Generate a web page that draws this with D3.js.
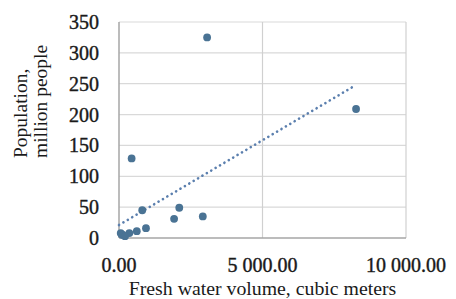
<!DOCTYPE html>
<html>
<head>
<meta charset="utf-8">
<script src="https://cdn.jsdelivr.net/npm/d3@7"></script>
<style>
  html, body { margin: 0; padding: 0; background: #fff; }
  svg { display: block; }
  text { font-family: "Liberation Serif", "Times New Roman", serif; fill: #1a1a1a; }
</style>
</head>
<body>
<svg id="chart" width="456" height="299"></svg>
<script>
// Data
const waterVolume = [3070, 8260, 440, 810, 2100, 1920, 2920, 940, 620, 360, 130, 60, 90, 210];
const population  = [325, 209, 129, 45, 49, 31, 35, 16, 11, 8, 5, 8, 6, 3];
const trendX = [0, 8260];
const trendY = [21, 248];
const yTicks = [0, 50, 100, 150, 200, 250, 300, 350];
const xTicks = [0, 5000, 10000];
const xTickLabels = ["0.00", "5 000.00", "10 000.00"];
const xTitle = "Fresh water volume, cubic meters";
const yTitleLines = ["Population,", "million people"];

const svg = d3.select("#chart");
const m = { left: 119, right: 406, top: 22, bottom: 238 };

const x = d3.scaleLinear().domain([0, 10000]).range([m.left, m.right]);
const y = d3.scaleLinear().domain([0, 350]).range([m.bottom, m.top]);

// horizontal gridlines
svg.append("g").selectAll("line").data(yTicks.filter(d => d > 0)).join("line")
  .attr("x1", m.left).attr("x2", m.right)
  .attr("y1", d => y(d)).attr("y2", d => y(d))
  .attr("stroke", "#d9d9d9").attr("stroke-width", 1.2);
// vertical gridlines
svg.append("g").selectAll("line").data(xTicks.filter(d => d > 0)).join("line")
  .attr("x1", d => x(d)).attr("x2", d => x(d))
  .attr("y1", m.top).attr("y2", m.bottom)
  .attr("stroke", "#d0d0d0").attr("stroke-width", 1.2);

// axes lines
svg.append("line").attr("x1", m.left).attr("x2", m.left).attr("y1", m.top).attr("y2", m.bottom)
  .attr("stroke", "#a6a6a6").attr("stroke-width", 1.5);
svg.append("line").attr("x1", m.left).attr("x2", m.right).attr("y1", m.bottom).attr("y2", m.bottom)
  .attr("stroke", "#a6a6a6").attr("stroke-width", 1.5);

// y tick labels
svg.append("g").selectAll("text").data(yTicks).join("text")
  .attr("x", 99).attr("y", d => y(d))
  .attr("dy", "0.35em")
  .attr("text-anchor", "end")
  .style("font-size", "20px")
  .style("stroke", "#1a1a1a").style("stroke-width", 0.4)
  .text(d => d);

// x tick labels
svg.append("g").selectAll("text").data(xTicks).join("text")
  .attr("x", d => x(d)).attr("y", 272)
  .attr("text-anchor", "middle")
  .style("font-size", "20px")
  .style("stroke", "#1a1a1a").style("stroke-width", 0.4)
  .text((d, i) => xTickLabels[i]);

// trend line
svg.append("line")
  .attr("x1", x(trendX[0])).attr("y1", y(trendY[0]))
  .attr("x2", x(trendX[1])).attr("y2", y(trendY[1]))
  .attr("stroke", "#5b7fae").attr("stroke-width", 2.6)
  .attr("stroke-linecap", "round")
  .attr("stroke-dasharray", "0.1 5");

// points
svg.append("g").selectAll("circle").data(waterVolume).join("circle")
  .attr("cx", d => x(d)).attr("cy", (d, i) => y(population[i]))
  .attr("r", 3.9)
  .attr("fill", "#4a7394");

// x title
svg.append("text").attr("x", (m.left + m.right) / 2).attr("y", 295)
  .attr("text-anchor", "middle").style("font-size", "19.8px").text(xTitle);

// y title
yTitleLines.forEach((t, i) => {
  svg.append("text")
    .attr("transform", `translate(${27 + i * 20},158) rotate(-90)`)
    .attr("text-anchor", "start")
    .style("font-size", "19.5px")
    .text(t);
});
</script>
</body>
</html>
